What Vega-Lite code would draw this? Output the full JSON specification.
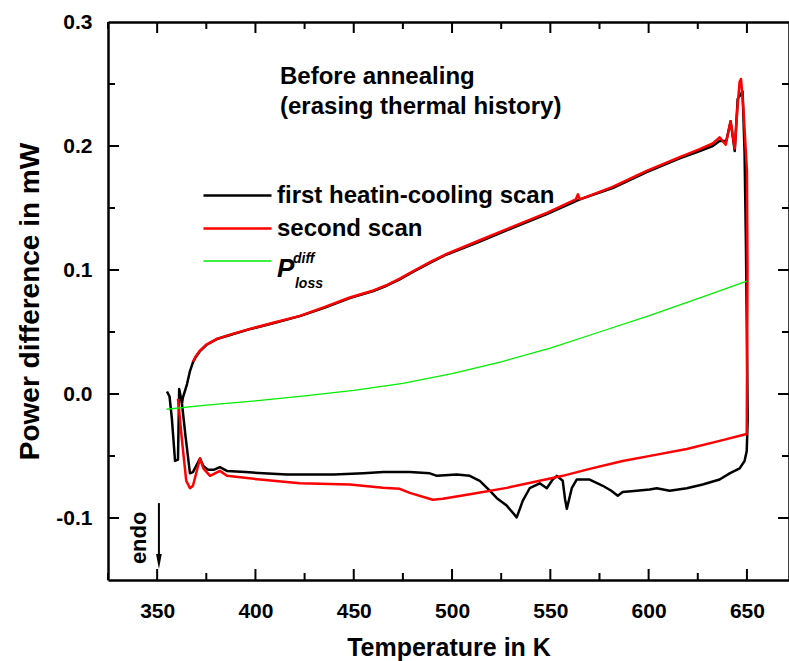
{
  "$schema": "https://vega.github.io/schema/vega-lite/v6.json",
  "width": 681,
  "height": 558,
  "autosize": {"type": "none"},
  "padding": {"left": 108, "top": 22, "right": 0, "bottom": 81},
  "background": "white",
  "config": {
    "view": {"stroke": null},
    "font": "Liberation Sans",
    "axis": {
      "domainColor": "black", "domainWidth": 2.5,
      "labelColor": "black", "labelFont": "Liberation Sans", "labelFontWeight": "bold", "labelFontSize": 21,
      "titleFont": "Liberation Sans", "titleFontWeight": "bold", "titleFontSize": 25, "titleColor": "black",
      "grid": false, "labelOverlap": false, "labelFlush": false
    }
  },
  "layer": [
    {
      "data": {"values": [
        {"s":"first heatin-cooling scan","i":1,"T":355.0,"P":0.002},
        {"s":"first heatin-cooling scan","i":2,"T":356.3,"P":-0.002},
        {"s":"first heatin-cooling scan","i":3,"T":357.5,"P":-0.02},
        {"s":"first heatin-cooling scan","i":4,"T":359.1,"P":-0.054},
        {"s":"first heatin-cooling scan","i":5,"T":360.6,"P":-0.053},
        {"s":"first heatin-cooling scan","i":6,"T":361.2,"P":0.004},
        {"s":"first heatin-cooling scan","i":7,"T":362.5,"P":-0.006},
        {"s":"first heatin-cooling scan","i":8,"T":364.5,"P":-0.035},
        {"s":"first heatin-cooling scan","i":9,"T":366.7,"P":-0.064},
        {"s":"first heatin-cooling scan","i":10,"T":368.2,"P":-0.063},
        {"s":"first heatin-cooling scan","i":11,"T":371.8,"P":-0.052},
        {"s":"first heatin-cooling scan","i":12,"T":373.5,"P":-0.058},
        {"s":"first heatin-cooling scan","i":13,"T":375.8,"P":-0.061},
        {"s":"first heatin-cooling scan","i":14,"T":379.0,"P":-0.061},
        {"s":"first heatin-cooling scan","i":15,"T":381.9,"P":-0.059},
        {"s":"first heatin-cooling scan","i":16,"T":385.5,"P":-0.062},
        {"s":"first heatin-cooling scan","i":17,"T":395.0,"P":-0.063},
        {"s":"first heatin-cooling scan","i":18,"T":404.0,"P":-0.064},
        {"s":"first heatin-cooling scan","i":19,"T":416.0,"P":-0.065},
        {"s":"first heatin-cooling scan","i":20,"T":440.0,"P":-0.065},
        {"s":"first heatin-cooling scan","i":21,"T":455.0,"P":-0.064},
        {"s":"first heatin-cooling scan","i":22,"T":465.0,"P":-0.063},
        {"s":"first heatin-cooling scan","i":23,"T":478.5,"P":-0.063},
        {"s":"first heatin-cooling scan","i":24,"T":488.7,"P":-0.064},
        {"s":"first heatin-cooling scan","i":25,"T":492.3,"P":-0.066},
        {"s":"first heatin-cooling scan","i":26,"T":502.4,"P":-0.065},
        {"s":"first heatin-cooling scan","i":27,"T":509.0,"P":-0.066},
        {"s":"first heatin-cooling scan","i":28,"T":514.1,"P":-0.07},
        {"s":"first heatin-cooling scan","i":29,"T":519.2,"P":-0.078},
        {"s":"first heatin-cooling scan","i":30,"T":522.8,"P":-0.084},
        {"s":"first heatin-cooling scan","i":31,"T":527.8,"P":-0.09},
        {"s":"first heatin-cooling scan","i":32,"T":532.9,"P":-0.0995},
        {"s":"first heatin-cooling scan","i":33,"T":536.0,"P":-0.086},
        {"s":"first heatin-cooling scan","i":34,"T":539.5,"P":-0.076},
        {"s":"first heatin-cooling scan","i":35,"T":544.6,"P":-0.072},
        {"s":"first heatin-cooling scan","i":36,"T":548.2,"P":-0.076},
        {"s":"first heatin-cooling scan","i":37,"T":551.2,"P":-0.069},
        {"s":"first heatin-cooling scan","i":38,"T":553.3,"P":-0.066},
        {"s":"first heatin-cooling scan","i":39,"T":556.3,"P":-0.07},
        {"s":"first heatin-cooling scan","i":40,"T":557.5,"P":-0.085},
        {"s":"first heatin-cooling scan","i":41,"T":558.4,"P":-0.0926},
        {"s":"first heatin-cooling scan","i":42,"T":560.9,"P":-0.076},
        {"s":"first heatin-cooling scan","i":43,"T":563.4,"P":-0.069},
        {"s":"first heatin-cooling scan","i":44,"T":570.0,"P":-0.069},
        {"s":"first heatin-cooling scan","i":45,"T":576.7,"P":-0.074},
        {"s":"first heatin-cooling scan","i":46,"T":581.0,"P":-0.078},
        {"s":"first heatin-cooling scan","i":47,"T":584.3,"P":-0.082},
        {"s":"first heatin-cooling scan","i":48,"T":586.8,"P":-0.079},
        {"s":"first heatin-cooling scan","i":49,"T":593.9,"P":-0.078},
        {"s":"first heatin-cooling scan","i":50,"T":600.5,"P":-0.077},
        {"s":"first heatin-cooling scan","i":51,"T":604.1,"P":-0.076},
        {"s":"first heatin-cooling scan","i":52,"T":610.7,"P":-0.078},
        {"s":"first heatin-cooling scan","i":53,"T":619.4,"P":-0.076},
        {"s":"first heatin-cooling scan","i":54,"T":627.5,"P":-0.073},
        {"s":"first heatin-cooling scan","i":55,"T":636.1,"P":-0.069},
        {"s":"first heatin-cooling scan","i":56,"T":641.2,"P":-0.064},
        {"s":"first heatin-cooling scan","i":57,"T":646.3,"P":-0.06},
        {"s":"first heatin-cooling scan","i":58,"T":648.8,"P":-0.054},
        {"s":"first heatin-cooling scan","i":59,"T":649.9,"P":-0.046},
        {"s":"first heatin-cooling scan","i":60,"T":650.4,"P":-0.02},
        {"s":"first heatin-cooling scan","i":61,"T":649.5,"P":0.12},
        {"s":"first heatin-cooling scan","i":62,"T":648.8,"P":0.195},
        {"s":"first heatin-cooling scan","i":63,"T":647.8,"P":0.244},
        {"s":"first heatin-cooling scan","i":64,"T":645.3,"P":0.238},
        {"s":"first heatin-cooling scan","i":65,"T":643.8,"P":0.196},
        {"s":"first heatin-cooling scan","i":66,"T":641.7,"P":0.22},
        {"s":"first heatin-cooling scan","i":67,"T":639.5,"P":0.204},
        {"s":"first heatin-cooling scan","i":68,"T":636.1,"P":0.204},
        {"s":"first heatin-cooling scan","i":69,"T":632.6,"P":0.2},
        {"s":"first heatin-cooling scan","i":70,"T":626.0,"P":0.196},
        {"s":"first heatin-cooling scan","i":71,"T":615.8,"P":0.19},
        {"s":"first heatin-cooling scan","i":72,"T":599.0,"P":0.179},
        {"s":"first heatin-cooling scan","i":73,"T":581.7,"P":0.166},
        {"s":"first heatin-cooling scan","i":74,"T":565.0,"P":0.157},
        {"s":"first heatin-cooling scan","i":75,"T":548.2,"P":0.145},
        {"s":"first heatin-cooling scan","i":76,"T":530.9,"P":0.134},
        {"s":"first heatin-cooling scan","i":77,"T":514.1,"P":0.123},
        {"s":"first heatin-cooling scan","i":78,"T":497.3,"P":0.1125},
        {"s":"first heatin-cooling scan","i":79,"T":489.0,"P":0.106},
        {"s":"first heatin-cooling scan","i":80,"T":480.1,"P":0.0985},
        {"s":"first heatin-cooling scan","i":81,"T":473.4,"P":0.0925},
        {"s":"first heatin-cooling scan","i":82,"T":467.0,"P":0.0875},
        {"s":"first heatin-cooling scan","i":83,"T":460.0,"P":0.083},
        {"s":"first heatin-cooling scan","i":84,"T":448.0,"P":0.0773},
        {"s":"first heatin-cooling scan","i":85,"T":435.0,"P":0.0695},
        {"s":"first heatin-cooling scan","i":86,"T":422.6,"P":0.0628},
        {"s":"first heatin-cooling scan","i":87,"T":410.0,"P":0.0575},
        {"s":"first heatin-cooling scan","i":88,"T":397.2,"P":0.0523},
        {"s":"first heatin-cooling scan","i":89,"T":388.0,"P":0.048},
        {"s":"first heatin-cooling scan","i":90,"T":380.4,"P":0.0443},
        {"s":"first heatin-cooling scan","i":91,"T":375.0,"P":0.0395},
        {"s":"first heatin-cooling scan","i":92,"T":371.8,"P":0.0346},
        {"s":"first heatin-cooling scan","i":93,"T":369.5,"P":0.0295},
        {"s":"first heatin-cooling scan","i":94,"T":368.2,"P":0.0255},
        {"s":"first heatin-cooling scan","i":95,"T":366.7,"P":0.0185},
        {"s":"first heatin-cooling scan","i":96,"T":365.2,"P":0.008},
        {"s":"first heatin-cooling scan","i":97,"T":363.1,"P":-0.003},
        {"s":"first heatin-cooling scan","i":98,"T":362.6,"P":-0.008},
        {"s":"second scan","i":1,"T":360.6,"P":-0.004},
        {"s":"second scan","i":2,"T":362.8,"P":-0.04},
        {"s":"second scan","i":3,"T":364.8,"P":-0.07},
        {"s":"second scan","i":4,"T":366.7,"P":-0.076},
        {"s":"second scan","i":5,"T":368.2,"P":-0.074},
        {"s":"second scan","i":6,"T":371.8,"P":-0.052},
        {"s":"second scan","i":7,"T":373.5,"P":-0.06},
        {"s":"second scan","i":8,"T":376.9,"P":-0.066},
        {"s":"second scan","i":9,"T":381.9,"P":-0.062},
        {"s":"second scan","i":10,"T":385.5,"P":-0.066},
        {"s":"second scan","i":11,"T":402.3,"P":-0.069},
        {"s":"second scan","i":12,"T":422.6,"P":-0.072},
        {"s":"second scan","i":13,"T":448.0,"P":-0.073},
        {"s":"second scan","i":14,"T":464.8,"P":-0.0757},
        {"s":"second scan","i":15,"T":473.4,"P":-0.0765},
        {"s":"second scan","i":16,"T":478.5,"P":-0.0797},
        {"s":"second scan","i":17,"T":490.2,"P":-0.0853},
        {"s":"second scan","i":18,"T":495.3,"P":-0.0845},
        {"s":"second scan","i":19,"T":510.6,"P":-0.0805},
        {"s":"second scan","i":20,"T":527.8,"P":-0.0757},
        {"s":"second scan","i":21,"T":544.6,"P":-0.07},
        {"s":"second scan","i":22,"T":556.3,"P":-0.066},
        {"s":"second scan","i":23,"T":570.0,"P":-0.0604},
        {"s":"second scan","i":24,"T":586.8,"P":-0.054},
        {"s":"second scan","i":25,"T":602.1,"P":-0.0495},
        {"s":"second scan","i":26,"T":619.4,"P":-0.0443},
        {"s":"second scan","i":27,"T":636.1,"P":-0.0378},
        {"s":"second scan","i":28,"T":649.9,"P":-0.0322},
        {"s":"second scan","i":29,"T":650.3,"P":0.1},
        {"s":"second scan","i":30,"T":650.0,"P":0.18},
        {"s":"second scan","i":31,"T":648.2,"P":0.23},
        {"s":"second scan","i":32,"T":647.0,"P":0.254},
        {"s":"second scan","i":33,"T":646.3,"P":0.252},
        {"s":"second scan","i":34,"T":645.3,"P":0.2335},
        {"s":"second scan","i":35,"T":643.8,"P":0.198},
        {"s":"second scan","i":36,"T":641.7,"P":0.22},
        {"s":"second scan","i":37,"T":639.2,"P":0.201},
        {"s":"second scan","i":38,"T":636.1,"P":0.207},
        {"s":"second scan","i":39,"T":632.6,"P":0.202},
        {"s":"second scan","i":40,"T":626.0,"P":0.1975},
        {"s":"second scan","i":41,"T":615.8,"P":0.191},
        {"s":"second scan","i":42,"T":599.0,"P":0.18},
        {"s":"second scan","i":43,"T":581.7,"P":0.167},
        {"s":"second scan","i":44,"T":565.0,"P":0.157},
        {"s":"second scan","i":45,"T":564.0,"P":0.161},
        {"s":"second scan","i":46,"T":563.0,"P":0.157},
        {"s":"second scan","i":47,"T":548.2,"P":0.146},
        {"s":"second scan","i":48,"T":530.9,"P":0.135},
        {"s":"second scan","i":49,"T":514.1,"P":0.124},
        {"s":"second scan","i":50,"T":497.3,"P":0.113},
        {"s":"second scan","i":51,"T":489.0,"P":0.1065},
        {"s":"second scan","i":52,"T":480.1,"P":0.099},
        {"s":"second scan","i":53,"T":473.4,"P":0.093},
        {"s":"second scan","i":54,"T":467.0,"P":0.088},
        {"s":"second scan","i":55,"T":460.0,"P":0.0835},
        {"s":"second scan","i":56,"T":448.0,"P":0.0778},
        {"s":"second scan","i":57,"T":435.0,"P":0.07},
        {"s":"second scan","i":58,"T":422.6,"P":0.063},
        {"s":"second scan","i":59,"T":410.0,"P":0.0578},
        {"s":"second scan","i":60,"T":397.2,"P":0.0525},
        {"s":"second scan","i":61,"T":388.0,"P":0.0483},
        {"s":"second scan","i":62,"T":380.4,"P":0.0445},
        {"s":"second scan","i":63,"T":375.0,"P":0.0398},
        {"s":"second scan","i":64,"T":371.8,"P":0.035},
        {"s":"second scan","i":65,"T":369.5,"P":0.03},
        {"s":"second scan","i":66,"T":368.2,"P":0.026},
        {"s":"P_loss^diff","i":1,"T":354.8,"P":-0.0123},
        {"s":"P_loss^diff","i":2,"T":375,"P":-0.009},
        {"s":"P_loss^diff","i":3,"T":400,"P":-0.0055},
        {"s":"P_loss^diff","i":4,"T":425,"P":-0.0015},
        {"s":"P_loss^diff","i":5,"T":450,"P":0.003},
        {"s":"P_loss^diff","i":6,"T":475,"P":0.0085},
        {"s":"P_loss^diff","i":7,"T":500,"P":0.0165},
        {"s":"P_loss^diff","i":8,"T":525,"P":0.026},
        {"s":"P_loss^diff","i":9,"T":550,"P":0.037},
        {"s":"P_loss^diff","i":10,"T":575,"P":0.05},
        {"s":"P_loss^diff","i":11,"T":600,"P":0.063},
        {"s":"P_loss^diff","i":12,"T":625,"P":0.077},
        {"s":"P_loss^diff","i":13,"T":650,"P":0.091}
      ]},
      "mark": {"type": "line", "strokeJoin": "round"},
      "encoding": {
        "x": {"field": "T", "type": "quantitative", "scale": {"domain": [325, 671.4], "nice": false, "zero": false},
          "axis": {"orient": "bottom", "values": [350,400,450,500,550,600,650], "ticks": false,
            "labelPadding": 20, "title": "Temperature in K", "titleFontSize": 25, "titlePadding": 14}},
        "y": {"field": "P", "type": "quantitative", "scale": {"domain": [-0.15, 0.3], "nice": false, "zero": false},
          "axis": {"orient": "left", "values": [-0.1,0,0.1,0.2,0.3], "ticks": false,
            "labelExpr": "replace(format(datum.value, '.1f'), '\u2212', '-')",
            "labelPadding": 16, "title": "Power difference in mW", "titleFontSize": 28, "titlePadding": 11}},
        "color": {"field": "s", "type": "nominal",
          "scale": {"domain": ["first heatin-cooling scan", "second scan", "P_loss^diff"], "range": ["#000000", "#ff0000", "#00ee00"]},
          "legend": {"orient": "none", "legendX": 111, "legendY": 155, "title": null, "padding": 0,
            "labelFont": "Liberation Sans", "labelFontSize": 24, "labelFontWeight": "bold", "labelColor": "black", "labelLimit": 500,
            "symbolType": "M-2,0L2,0", "symbolSize": 1156, "labelOffset": 21, "rowPadding": 2,
            "labelExpr": "datum.label === 'P_loss^diff' ? '' : datum.label"}},
        "strokeWidth": {"field": "s", "type": "nominal",
          "scale": {"type": "ordinal", "domain": ["first heatin-cooling scan", "second scan", "P_loss^diff"], "range": [2.5, 2.5, 1.3]},
          "legend": {"orient": "none", "legendX": 111, "legendY": 155, "title": null, "padding": 0,
            "labelFont": "Liberation Sans", "labelFontSize": 24, "labelFontWeight": "bold", "labelColor": "black", "labelLimit": 500,
            "symbolType": "M-2,0L2,0", "symbolSize": 1156, "labelOffset": 21, "rowPadding": 2,
            "labelExpr": "datum.label === 'P_loss^diff' ? '' : datum.label"}},
        "order": {"field": "i", "type": "quantitative"}
      }
    },
    {
      "data": {"values": [
        {"T": 412.5, "P": 0.25, "t": "Before annealing"},
        {"T": 412.5, "P": 0.2258, "t": "(erasing thermal history)"}
      ]},
      "mark": {"type": "text", "align": "left", "baseline": "alphabetic", "fontSize": 24, "fontWeight": "bold", "font": "Liberation Sans", "color": "black"},
      "encoding": {
        "x": {"field": "T", "type": "quantitative", "scale": {"domain": [325, 671.4], "nice": false, "zero": false},
          "axis": {"orient": "top", "values": [350,400,450,500,550,600,650], "ticks": false, "labels": false, "title": null}},
        "y": {"field": "P", "type": "quantitative", "scale": {"domain": [-0.15, 0.3], "nice": false, "zero": false},
          "axis": {"orient": "right", "values": [-0.1,0,0.1,0.2,0.3], "ticks": false, "labels": false, "title": null}},
        "text": {"field": "t", "type": "nominal"}
      }
    },
    {
      "data": {"values": [{"T": 411.0, "P": 0.0944, "t": "P"}]},
      "mark": {"type": "text", "align": "left", "baseline": "alphabetic", "fontSize": 26, "fontWeight": "bold", "fontStyle": "italic", "font": "Liberation Sans", "color": "black"},
      "encoding": {
        "x": {"field": "T", "type": "quantitative", "scale": {"domain": [325, 671.4], "nice": false, "zero": false}, "axis": null},
        "y": {"field": "P", "type": "quantitative", "scale": {"domain": [-0.15, 0.3], "nice": false, "zero": false}, "axis": null},
        "text": {"field": "t", "type": "nominal"}
      }
    },
    {
      "data": {"values": [{"T": 419.1, "P": 0.1056, "t": "diff"}, {"T": 420.1, "P": 0.0855, "t": "loss"}]},
      "mark": {"type": "text", "align": "left", "baseline": "alphabetic", "fontSize": 14, "fontWeight": "bold", "fontStyle": "italic", "font": "Liberation Sans", "color": "black"},
      "encoding": {
        "x": {"field": "T", "type": "quantitative", "scale": {"domain": [325, 671.4], "nice": false, "zero": false}, "axis": null},
        "y": {"field": "P", "type": "quantitative", "scale": {"domain": [-0.15, 0.3], "nice": false, "zero": false}, "axis": null},
        "text": {"field": "t", "type": "nominal"}
      }
    },
    {
      "data": {"values": [{"T": 341.0, "P": -0.116, "t": "endo"}]},
      "mark": {"type": "text", "align": "center", "baseline": "middle", "angle": 270, "fontSize": 22, "fontWeight": "bold", "font": "Liberation Sans", "color": "black"},
      "encoding": {
        "x": {"field": "T", "type": "quantitative", "scale": {"domain": [325, 671.4], "nice": false, "zero": false}, "axis": null},
        "y": {"field": "P", "type": "quantitative", "scale": {"domain": [-0.15, 0.3], "nice": false, "zero": false}, "axis": null},
        "text": {"field": "t", "type": "nominal"}
      }
    },
    {
      "data": {"values": [{"T": 350.9, "P": -0.088, "P2": -0.13}]},
      "mark": {"type": "rule", "color": "black", "strokeWidth": 2},
      "encoding": {
        "x": {"field": "T", "type": "quantitative", "scale": {"domain": [325, 671.4], "nice": false, "zero": false}, "axis": null},
        "y": {"field": "P", "type": "quantitative", "scale": {"domain": [-0.15, 0.3], "nice": false, "zero": false}, "axis": null},
        "y2": {"field": "P2"}
      }
    },
    {
      "data": {"values": [{"T": 350.9, "P": -0.135}]},
      "mark": {"type": "point", "shape": "M-0.38,-1L0.38,-1L0,1Z", "filled": true, "color": "black", "opacity": 1, "size": 225},
      "encoding": {
        "x": {"field": "T", "type": "quantitative", "scale": {"domain": [325, 671.4], "nice": false, "zero": false}, "axis": null},
        "y": {"field": "P", "type": "quantitative", "scale": {"domain": [-0.15, 0.3], "nice": false, "zero": false}, "axis": null}
      }
    },
    {
      "data": {"values": [{"T": 350}, {"T": 400}, {"T": 450}, {"T": 500}, {"T": 550}, {"T": 600}, {"T": 650}]},
      "layer": [
        {
          "mark": {"type": "rule", "color": "black", "strokeWidth": 2, "y": "height", "y2": {"expr": "height - 11"}},
          "encoding": {"x": {"field": "T", "type": "quantitative", "scale": {"domain": [325, 671.4], "nice": false, "zero": false}, "axis": null}}
        },
        {
          "mark": {"type": "rule", "color": "black", "strokeWidth": 2, "y": 0, "y2": 11},
          "encoding": {"x": {"field": "T", "type": "quantitative", "scale": {"domain": [325, 671.4], "nice": false, "zero": false}, "axis": null}}
        }
      ]
    },
    {
      "data": {"values": [{"T": 325}, {"T": 375}, {"T": 425}, {"T": 475}, {"T": 525}, {"T": 575}, {"T": 625}]},
      "layer": [
        {
          "mark": {"type": "rule", "color": "black", "strokeWidth": 2, "y": "height", "y2": {"expr": "height - 7"}},
          "encoding": {"x": {"field": "T", "type": "quantitative", "scale": {"domain": [325, 671.4], "nice": false, "zero": false}, "axis": null}}
        },
        {
          "mark": {"type": "rule", "color": "black", "strokeWidth": 2, "y": 0, "y2": 7},
          "encoding": {"x": {"field": "T", "type": "quantitative", "scale": {"domain": [325, 671.4], "nice": false, "zero": false}, "axis": null}}
        }
      ]
    },
    {
      "data": {"values": [{"P": -0.1}, {"P": 0}, {"P": 0.1}, {"P": 0.2}]},
      "layer": [
        {
          "mark": {"type": "rule", "color": "black", "strokeWidth": 2, "x": 0, "x2": 11},
          "encoding": {"y": {"field": "P", "type": "quantitative", "scale": {"domain": [-0.15, 0.3], "nice": false, "zero": false}, "axis": null}}
        },
        {
          "mark": {"type": "rule", "color": "black", "strokeWidth": 2, "x": "width", "x2": {"expr": "width - 11"}},
          "encoding": {"y": {"field": "P", "type": "quantitative", "scale": {"domain": [-0.15, 0.3], "nice": false, "zero": false}, "axis": null}}
        }
      ]
    },
    {
      "data": {"values": [{"P": -0.05}, {"P": 0.05}, {"P": 0.15}, {"P": 0.25}]},
      "layer": [
        {
          "mark": {"type": "rule", "color": "black", "strokeWidth": 2, "x": 0, "x2": 7},
          "encoding": {"y": {"field": "P", "type": "quantitative", "scale": {"domain": [-0.15, 0.3], "nice": false, "zero": false}, "axis": null}}
        },
        {
          "mark": {"type": "rule", "color": "black", "strokeWidth": 2, "x": "width", "x2": {"expr": "width - 7"}},
          "encoding": {"y": {"field": "P", "type": "quantitative", "scale": {"domain": [-0.15, 0.3], "nice": false, "zero": false}, "axis": null}}
        }
      ]
    }
  ]
}
